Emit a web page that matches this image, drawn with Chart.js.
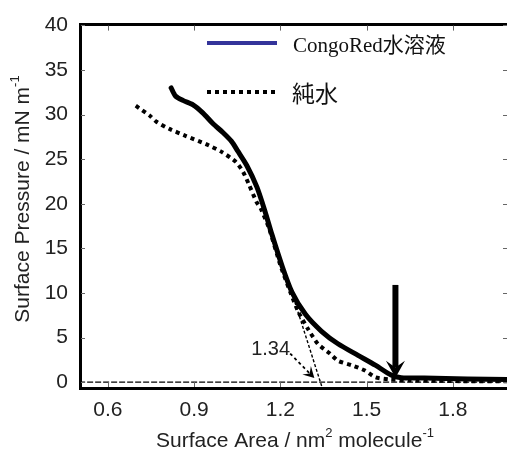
<!DOCTYPE html>
<html lang="ja">
<head>
    <meta charset="UTF-8">
    <title>Surface pressure isotherm</title>
    <script src="https://cdn.jsdelivr.net/npm/chart.js"></script>
    <style>
        body {
            margin: 0;
            background: #fff;
        }
        #wrap {
            width: 507px;
            height: 454px;
        }
    </style>
</head>
<body>
    <div id="wrap"><canvas id="isotherm"></canvas></div>

    <script>
        // CongoRed水溶液 (solid)
        const congoX = [0.82, 0.835, 0.861, 0.896, 0.93, 0.965, 1.0, 1.03, 1.052, 1.083, 1.118, 1.146, 1.17, 1.205, 1.24, 1.287, 1.343, 1.40, 1.47, 1.53, 1.585, 1.62, 1.7, 1.85, 1.99];
        const congoY = [33.0, 32.1, 31.6, 31.1, 30.2, 29.0, 28.0, 27.0, 25.9, 24.3, 21.9, 19.2, 16.6, 13.1, 10.1, 7.6, 5.7, 4.3, 3.0, 1.9, 0.8, 0.5, 0.45, 0.35, 0.3];

        // 純水 (dotted)
        const waterX = [0.697, 0.745, 0.769, 0.814, 0.872, 0.941, 0.997, 1.045, 1.07, 1.09, 1.117, 1.131, 1.16, 1.2, 1.238, 1.262, 1.297, 1.33, 1.372, 1.40, 1.447, 1.494, 1.53, 1.58, 1.65, 1.75, 1.85, 1.99];
        const waterY = [31.0, 29.9, 29.2, 28.4, 27.6, 26.7, 25.8, 24.7, 23.6, 22.2, 20.2, 19.5, 17.3, 13.1, 9.8, 7.9, 5.9, 4.3, 3.2, 2.4, 1.9, 1.3, 0.55, 0.3, 0.2, 0.15, 0.1, 0.1];

        // baseline and tangent extrapolation
        const baseX = [0.5, 2.0];
        const baseY = [0, 0];
        const tangentX = [1.245, 1.345];
        const tangentY = [9.5, -0.6];

        // annotations (data coordinates)
        const labelText = '1.34';
        const labelPos = [1.166, 3.7];
        const smallArrow = [[1.234, 3.2], [1.318, 0.45]];
        const bigArrow = [[1.6, 10.9], [1.6, 0.5]];

        const xTicks = [0.6, 0.9, 1.2, 1.5, 1.8];
        const yTicks = [0, 5, 10, 15, 20, 25, 30, 35, 40];

        const legendItems = ['CongoRed水溶液', '純水'];

        function pts(xs, ys) {
            return xs.map((v, i) => ({ x: v, y: ys[i] }));
        }

        function arrowHead(ctx, x1, y1, x2, y2, len, half) {
            const ang = Math.atan2(y2 - y1, x2 - x1);
            ctx.beginPath();
            ctx.moveTo(x2, y2);
            ctx.lineTo(x2 - len * Math.cos(ang) + half * Math.sin(ang), y2 - len * Math.sin(ang) - half * Math.cos(ang));
            ctx.lineTo(x2 - len * Math.cos(ang) * 0.6, y2 - len * Math.sin(ang) * 0.6);
            ctx.lineTo(x2 - len * Math.cos(ang) - half * Math.sin(ang), y2 - len * Math.sin(ang) + half * Math.cos(ang));
            ctx.closePath();
            ctx.fill();
        }

        // draw text with superscript pieces, centered at (cx, cy)
        function richText(ctx, parts, cx, cy, size) {
            const big = size + 'px Arial';
            const small = Math.round(size * 0.62) + 'px Arial';
            let w = 0;
            parts.forEach(p => {
                ctx.font = p.sup ? small : big;
                w += ctx.measureText(p.t).width;
            });
            let x = cx - w / 2;
            ctx.textAlign = 'left';
            ctx.textBaseline = 'middle';
            parts.forEach(p => {
                ctx.font = p.sup ? small : big;
                ctx.fillText(p.t, x, p.sup ? cy - size * 0.38 : cy);
                x += ctx.measureText(p.t).width;
            });
        }

        const overlay = {
            id: 'overlay',
            afterDraw(chart) {
                const { ctx, chartArea: a, scales: { x, y } } = chart;
                ctx.save();

                // top frame line
                ctx.strokeStyle = '#000';
                ctx.lineWidth = 3;
                ctx.beginPath();
                ctx.moveTo(a.left - 1, a.top);
                ctx.lineTo(a.right, a.top);
                ctx.stroke();

                // inward tick marks
                ctx.strokeStyle = '#666';
                ctx.lineWidth = 1;
                xTicks.forEach(v => {
                    const px = Math.round(x.getPixelForValue(v)) + 0.5;
                    ctx.beginPath();
                    ctx.moveTo(px, a.bottom - 1);
                    ctx.lineTo(px, a.bottom - 6);
                    ctx.moveTo(px, a.top + 1);
                    ctx.lineTo(px, a.top + 6);
                    ctx.stroke();
                });
                yTicks.forEach(v => {
                    const py = Math.round(y.getPixelForValue(v)) + 0.5;
                    ctx.beginPath();
                    ctx.moveTo(a.left + 1, py);
                    ctx.lineTo(a.left + 5, py);
                    ctx.moveTo(a.right, py);
                    ctx.lineTo(a.right - 4, py);
                    ctx.stroke();
                });

                ctx.fillStyle = '#000';
                ctx.strokeStyle = '#000';

                // big arrow
                const bx1 = x.getPixelForValue(bigArrow[0][0]);
                const by1 = y.getPixelForValue(bigArrow[0][1]);
                const bx2 = x.getPixelForValue(bigArrow[1][0]);
                const by2 = y.getPixelForValue(bigArrow[1][1]);
                ctx.lineWidth = 6;
                ctx.beginPath();
                ctx.moveTo(bx1, by1);
                ctx.lineTo(bx2, by2 - 10);
                ctx.stroke();
                arrowHead(ctx, bx1, by1, bx2, by2, 17, 9.5);

                // small dotted arrow
                const sx1 = x.getPixelForValue(smallArrow[0][0]);
                const sy1 = y.getPixelForValue(smallArrow[0][1]);
                const sx2 = x.getPixelForValue(smallArrow[1][0]);
                const sy2 = y.getPixelForValue(smallArrow[1][1]);
                ctx.lineWidth = 1.8;
                ctx.setLineDash([3, 3]);
                ctx.beginPath();
                ctx.moveTo(sx1, sy1);
                ctx.lineTo(sx2 - 4, sy2 - 4);
                ctx.stroke();
                ctx.setLineDash([]);
                arrowHead(ctx, sx1, sy1, sx2, sy2, 11, 6);

                // 1.34 label
                ctx.fillStyle = '#222';
                ctx.font = '20px Arial';
                ctx.textAlign = 'center';
                ctx.textBaseline = 'middle';
                ctx.fillText(labelText, x.getPixelForValue(labelPos[0]), y.getPixelForValue(labelPos[1]));

                // legend
                ctx.strokeStyle = '#34349a';
                ctx.lineWidth = 4;
                ctx.beginPath();
                ctx.moveTo(207, 43);
                ctx.lineTo(277, 43);
                ctx.stroke();
                ctx.strokeStyle = '#000';
                ctx.setLineDash([4, 4]);
                ctx.beginPath();
                ctx.moveTo(207, 92);
                ctx.lineTo(276, 92);
                ctx.stroke();
                ctx.setLineDash([]);

                ctx.fillStyle = '#111';
                ctx.textAlign = 'left';
                ctx.font = '21px "Liberation Serif", "Noto Sans CJK JP", serif';
                ctx.fillText(legendItems[0], 293, 46);
                ctx.font = '23px "Noto Sans CJK JP", sans-serif';
                ctx.fillText(legendItems[1], 292, 93);

                // axis titles
                ctx.fillStyle = '#222';
                richText(ctx, [{ t: 'Surface Area / nm' }, { t: '2', sup: true }, { t: ' molecule' }, { t: '-1', sup: true }], 295, 441, 21);
                ctx.save();
                ctx.translate(23, 199);
                ctx.rotate(-Math.PI / 2);
                richText(ctx, [{ t: 'Surface Pressure / mN m' }, { t: '-1', sup: true }], 0, 0, 21);
                ctx.restore();

                ctx.restore();
            }
        };

        const ctx = document.getElementById('isotherm').getContext('2d');
        const chart = new Chart(ctx, {
            type: 'scatter',
            data: {
                datasets: [
                    {
                        label: 'baseline',
                        data: pts(baseX, baseY),
                        showLine: true,
                        borderColor: '#000',
                        borderWidth: 1.4,
                        borderDash: [6, 2],
                        pointRadius: 0
                    },
                    {
                        label: 'tangent',
                        data: pts(tangentX, tangentY),
                        showLine: true,
                        borderColor: '#000',
                        borderWidth: 1.4,
                        borderDash: [3, 2],
                        pointRadius: 0
                    },
                    {
                        label: legendItems[1],
                        data: pts(waterX, waterY),
                        showLine: true,
                        borderColor: '#000',
                        borderWidth: 4,
                        borderDash: [4, 4],
                        borderCapStyle: 'butt',
                        tension: 0.2,
                        pointRadius: 0
                    },
                    {
                        label: legendItems[0],
                        data: pts(congoX, congoY),
                        showLine: true,
                        borderColor: '#000',
                        borderWidth: 5,
                        borderCapStyle: 'round',
                        borderJoinStyle: 'round',
                        tension: 0.25,
                        pointRadius: 0
                    }
                ]
            },
            options: {
                responsive: true,
                maintainAspectRatio: false,
                animation: false,
                layout: { padding: { top: 17, right: 0, left: 0, bottom: 0 } },
                plugins: {
                    legend: { display: false },
                    tooltip: { enabled: false }
                },
                scales: {
                    x: {
                        type: 'linear',
                        min: 0.503,
                        max: 1.988,
                        afterFit: s => { s.height = 66; },
                        afterBuildTicks: s => { s.ticks = xTicks.map(v => ({ value: v })); },
                        grid: { display: false, drawTicks: false },
                        border: { display: true, width: 3, color: '#000' },
                        ticks: {
                            padding: 10,
                            color: '#222',
                            font: { family: 'Arial', size: 21 },
                            callback: v => v.toFixed(1)
                        }
                    },
                    y: {
                        type: 'linear',
                        min: -0.66,
                        max: 40.1,
                        afterFit: s => { s.width = 80; },
                        afterBuildTicks: s => { s.ticks = yTicks.map(v => ({ value: v })); },
                        grid: { display: false, drawTicks: false },
                        border: { display: true, width: 3, color: '#000' },
                        ticks: {
                            padding: 12,
                            color: '#222',
                            font: { family: 'Arial', size: 21 }
                        }
                    }
                }
            },
            plugins: [overlay]
        });
    </script>
</body>
</html>
